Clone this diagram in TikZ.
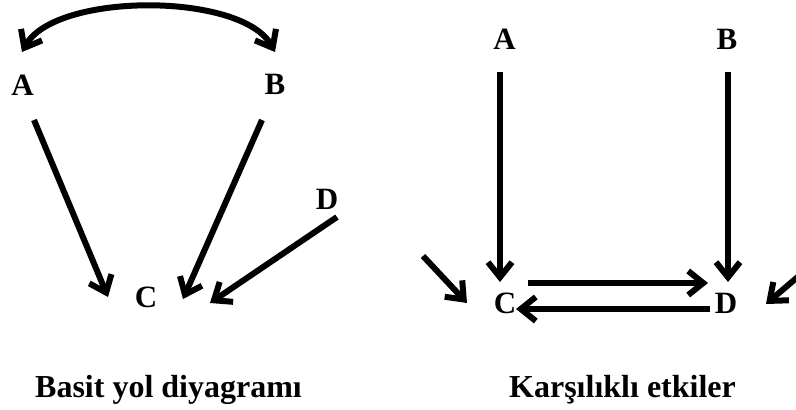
\documentclass[tikz,border=0pt]{standalone}
\usepackage{fontspec}
\setmainfont{Liberation Serif}
\usetikzlibrary{arrows.meta}
\begin{document}
\begin{tikzpicture}[x=1pt,y=-1pt,
  lbl/.style={font=\bfseries\fontsize{31}{36}\selectfont, inner sep=0pt},
  ttl/.style={font=\bfseries\fontsize{32}{38}\selectfont, inner sep=0pt, anchor=base},
  tip/.style={Straight Barb[length=15pt,width=24pt]},
  arr/.style={line width=6pt, -{Straight Barb[length=15pt,width=24pt]}},
  darr/.style={line width=6pt, {Straight Barb[length=15pt,width=24pt]}-{Straight Barb[length=15pt,width=24pt]}}]
\useasboundingbox (0,0) rectangle (796,410);
% left diagram
\node[lbl] (A1) at (22.5,85) {A};
\node[lbl] (B1) at (275,84) {B};
\node[lbl] (C1) at (146,297) {C};
\node[lbl] (D1) at (327,199) {D};
\node[ttl] (T1) at (168.5,397) {Basit yol diyagramı};
\coordinate (arcL) at (22,52);
\coordinate (arcR) at (275,52);
\coordinate (a1s) at (34,120);
\coordinate (a1e) at (108,297);
\coordinate (b1s) at (262,120);
\coordinate (b1e) at (183,299);
\coordinate (d1s) at (337,217);
\coordinate (d1e) at (210,303);
\draw[darr] (arcL) .. controls (55,-8) and (242,-8) .. (arcR);
\draw[arr] (a1s) -- (a1e);
\draw[arr] (b1s) -- (b1e);
\draw[arr] (d1s) -- (d1e);
% right diagram
\node[lbl] (A2) at (504.5,39) {A};
\node[lbl] (B2) at (727,39) {B};
\node[lbl] (C2) at (505,303) {C};
\node[lbl] (D2) at (726,303) {D};
\node[ttl] (T2) at (622.5,397) {Karşılıklı etkiler};
\coordinate (a2s) at (500,72);
\coordinate (a2e) at (500,282);
\coordinate (b2s) at (728,72);
\coordinate (b2e) at (728,282);
\coordinate (cds) at (528,283);
\coordinate (cde) at (708,283);
\coordinate (dcs) at (710,309);
\coordinate (dce) at (516,309);
\coordinate (ins) at (423,256);
\coordinate (ine) at (467,303);
\coordinate (rns) at (800,275);
\coordinate (rne) at (766,304);
\draw[arr] (a2s) -- (a2e);
\draw[arr] (b2s) -- (b2e);
\draw[arr] (cds) -- (cde);
\draw[arr] (dcs) -- (dce);
\draw[arr] (ins) -- (ine);
\draw[arr] (rns) -- (rne);
\end{tikzpicture}
\end{document}
